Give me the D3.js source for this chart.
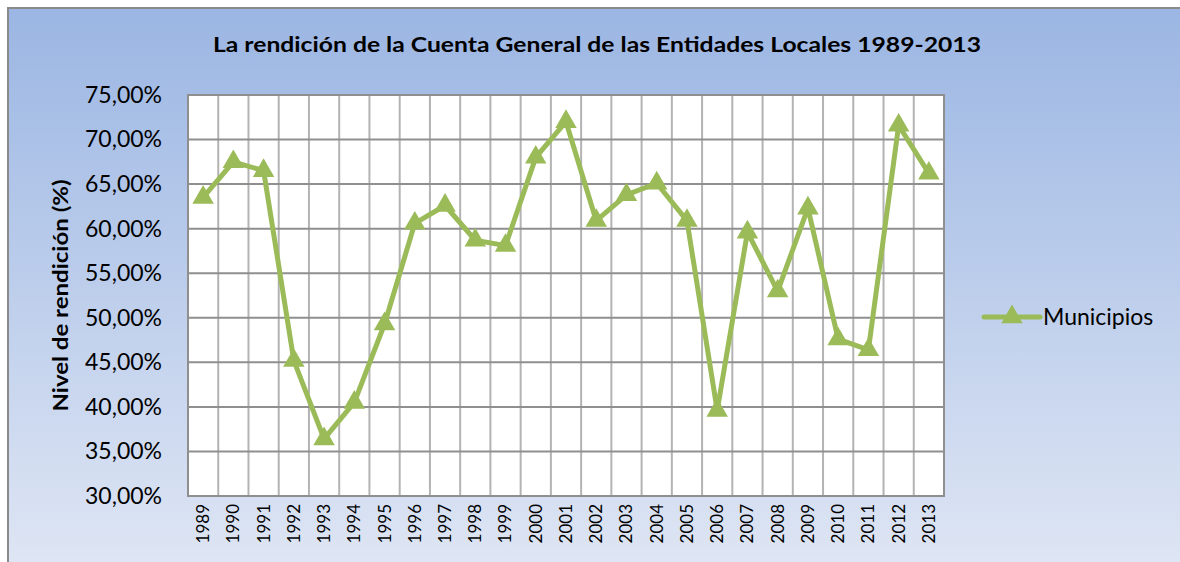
<!DOCTYPE html>
<html>
<head>
<meta charset="utf-8">
<script src="https://cdn.jsdelivr.net/npm/d3@7"></script>
<style>
  body { margin: 0; padding: 0; background: #fff; }
  svg { display: block; font-family: Lato, "Open Sans", sans-serif; }
</style>
</head>
<body>
<svg width="1180" height="562"></svg>
<script>
// years and values
var years = ['1989','1990','1991','1992','1993','1994','1995','1996','1997','1998','1999','2000',
             '2001','2002','2003','2004','2005','2006','2007','2008','2009','2010','2011','2012','2013'];
var municipios = [63.5, 67.5, 66.5, 45.2, 36.4, 40.5, 49.3, 60.6, 62.6, 58.7, 58.1, 68.0,
                  72.0, 60.9, 63.8, 65.1, 60.9, 39.6, 59.6, 53.0, 62.3, 47.6, 46.4, 71.6, 66.2];
var yTicks = [30, 35, 40, 45, 50, 55, 60, 65, 70, 75];

var svg = d3.select('svg');
var svgWidth = +svg.attr('width');
var svgHeight = +svg.attr('height');

// plot area
var padding = {t: 95, r: 236, b: 66, l: 188};
var chartWidth = svgWidth - padding.l - padding.r;
var chartHeight = svgHeight - padding.t - padding.b;

var green = '#9bbb59';

// background gradient
var defs = svg.append('defs');
var grad = defs.append('linearGradient')
    .attr('id', 'bg')
    .attr('x1', 0).attr('y1', 0).attr('x2', 0).attr('y2', 1);
grad.append('stop').attr('offset', '0%').attr('stop-color', '#9bb6e3');
grad.append('stop').attr('offset', '100%').attr('stop-color', '#dfe6f4');

svg.append('rect')
    .attr('x', 8).attr('y', 8)
    .attr('width', svgWidth).attr('height', svgHeight)
    .attr('fill', 'url(#bg)')
    .attr('stroke', '#8a8a8a')
    .attr('stroke-width', 2);

var x = d3.scaleBand()
    .domain(years)
    .range([0, chartWidth]);

var y = d3.scaleLinear()
    .domain([30, 75])
    .range([chartHeight, 0]);

var chartG = svg.append('g')
    .attr('transform', 'translate(' + [padding.l, padding.t] + ')');

// plot background
chartG.append('rect')
    .attr('width', chartWidth)
    .attr('height', chartHeight)
    .attr('fill', '#fff');

// vertical gridlines at category boundaries
chartG.selectAll('.vgrid')
    .data(years.slice(1))
    .enter()
    .append('line')
    .attr('class', 'vgrid')
    .attr('x1', function(d) { return x(d); })
    .attr('x2', function(d) { return x(d); })
    .attr('y1', 0)
    .attr('y2', chartHeight)
    .attr('stroke', '#b3b3b3')
    .attr('stroke-width', 2);

// horizontal gridlines
chartG.selectAll('.hgrid')
    .data(yTicks)
    .enter()
    .append('line')
    .attr('class', 'hgrid')
    .attr('x1', 0)
    .attr('x2', chartWidth)
    .attr('y1', function(d) { return y(d); })
    .attr('y2', function(d) { return y(d); })
    .attr('stroke', '#8f8f8f')
    .attr('stroke-width', 2);

// plot border
chartG.append('rect')
    .attr('width', chartWidth)
    .attr('height', chartHeight)
    .attr('fill', 'none')
    .attr('stroke', '#8f8f8f')
    .attr('stroke-width', 2);

// y axis labels
var yAxis = d3.axisLeft(y)
    .tickValues(yTicks)
    .tickSize(0)
    .tickPadding(26)
    .tickFormat(function(d) { return d3.format('.2f')(d).replace('.', ',') + '%'; });

chartG.append('g')
    .attr('class', 'yAxis')
    .call(yAxis)
    .call(function(g) { g.select('.domain').remove(); })
    .selectAll('text')
    .style('font-family', 'Lato, sans-serif')
    .style('font-size', '23px')
    .attr('fill', '#000');

// x axis labels, rotated
var xAxis = d3.axisBottom(x).tickSize(0).tickPadding(0);
chartG.append('g')
    .attr('class', 'xAxis')
    .attr('transform', 'translate(0,' + chartHeight + ')')
    .call(xAxis)
    .call(function(g) { g.select('.domain').remove(); })
    .selectAll('text')
    .attr('transform', 'rotate(-90)')
    .attr('x', -8)
    .attr('y', 0)
    .attr('dy', '0.35em')
    .style('text-anchor', 'end')
    .style('font-family', 'Lato, sans-serif')
    .style('font-size', '17px')
    .attr('fill', '#000');

// the line
var line = d3.line()
    .x(function(d, i) { return x(years[i]) + x.bandwidth() / 2; })
    .y(function(d) { return y(d); });

chartG.append('path')
    .datum(municipios)
    .attr('d', line)
    .attr('fill', 'none')
    .attr('stroke', green)
    .attr('stroke-width', 5)
    .attr('stroke-linejoin', 'round');

// triangle markers
var tri = d3.symbol().type(d3.symbolTriangle).size(200);
chartG.selectAll('.marker')
    .data(municipios)
    .enter()
    .append('path')
    .attr('class', 'marker')
    .attr('d', tri)
    .attr('transform', function(d, i) {
        return 'translate(' + [x(years[i]) + x.bandwidth() / 2, y(d)] + ')';
    })
    .attr('fill', green);

// title
svg.append('text')
    .attr('x', 597)
    .attr('y', 52)
    .attr('text-anchor', 'middle')
    .attr('textLength', 768)
    .attr('lengthAdjust', 'spacingAndGlyphs')
    .style('font-size', '21px')
    .style('font-weight', 700)
    .text('La rendición de la Cuenta General de las Entidades Locales 1989-2013');

// y axis title
svg.append('text')
    .attr('transform', 'translate(68,' + (padding.t + chartHeight / 2) + ') rotate(-90)')
    .attr('text-anchor', 'middle')
    .attr('textLength', 232)
    .attr('lengthAdjust', 'spacingAndGlyphs')
    .style('font-size', '20px')
    .style('font-weight', 700)
    .text('Nivel de rendición (%)');

// legend
var legendG = svg.append('g')
    .attr('transform', 'translate(984,317)');
legendG.append('line')
    .attr('x1', 0).attr('x2', 56)
    .attr('y1', 0).attr('y2', 0)
    .attr('stroke', green)
    .attr('stroke-width', 5)
    .attr('stroke-linecap', 'round');
legendG.append('path')
    .attr('d', tri)
    .attr('transform', 'translate(28,0)')
    .attr('fill', green);
legendG.append('text')
    .attr('x', 59)
    .attr('y', 0)
    .attr('dy', '0.35em')
    .style('font-size', '23px')
    .text('Municipios');
</script>
</body>
</html>
